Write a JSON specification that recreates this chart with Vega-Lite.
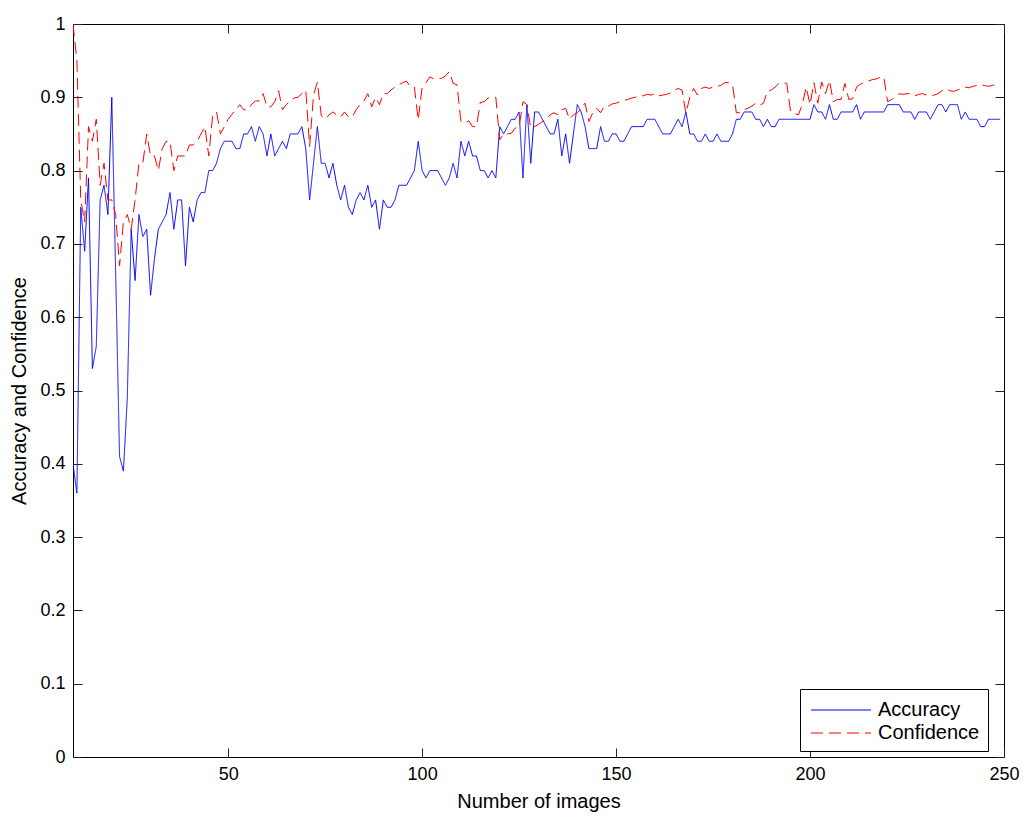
{
  "$schema": "https://vega.github.io/schema/vega-lite/v6.json",
  "width": 931,
  "height": 733,
  "autosize": "none",
  "padding": {"left": 73, "top": 24, "right": 24, "bottom": 60},
  "background": "white",
  "config": {
    "font": "Liberation Sans",
    "view": {"stroke": "black", "strokeWidth": 1},
    "axis": {
      "grid": false,
      "domain": false,
      "tickColor": "#222222",
      "tickSize": -9,
      "tickWidth": 1,
      "labelFont": "Liberation Sans",
      "labelFontSize": 18,
      "labelColor": "black",
      "labelPadding": 17,
      "labelFlush": false,
      "titleFont": "Liberation Sans",
      "titleFontSize": 20,
      "titleFontWeight": "normal",
      "titleColor": "black"
    },
    "legend": {
      "orient": "none",
      "legendX": 727,
      "legendY": 665,
      "title": null,
      "fillColor": "white",
      "strokeColor": "black",
      "padding": 8,
      "labelFont": "Liberation Sans",
      "labelFontSize": 20,
      "labelColor": "black",
      "labelOffset": 24,
      "symbolType": "M-2.4,0H2.4",
      "symbolSize": 625,
      "symbolOffset": 20,
      "symbolStrokeWidth": 1,
      "rowPadding": 0
    }
  },
  "data": {
    "values": [
      {"n":10,"Accuracy":0.40,"Confidence":1.00},
      {"n":11,"Accuracy":0.36,"Confidence":0.95},
      {"n":12,"Accuracy":0.75,"Confidence":0.76},
      {"n":13,"Accuracy":0.69,"Confidence":0.73},
      {"n":14,"Accuracy":0.79,"Confidence":0.86},
      {"n":15,"Accuracy":0.53,"Confidence":0.84},
      {"n":16,"Accuracy":0.56,"Confidence":0.87},
      {"n":17,"Accuracy":0.76,"Confidence":0.78},
      {"n":18,"Accuracy":0.78,"Confidence":0.81},
      {"n":19,"Accuracy":0.74,"Confidence":0.76},
      {"n":20,"Accuracy":0.90,"Confidence":0.76},
      {"n":21,"Accuracy":0.66,"Confidence":0.74},
      {"n":22,"Accuracy":0.41,"Confidence":0.67},
      {"n":23,"Accuracy":0.39,"Confidence":0.73},
      {"n":24,"Accuracy":0.49,"Confidence":0.74},
      {"n":25,"Accuracy":0.72,"Confidence":0.72},
      {"n":26,"Accuracy":0.65,"Confidence":0.76},
      {"n":27,"Accuracy":0.74,"Confidence":0.81},
      {"n":28,"Accuracy":0.71,"Confidence":0.81},
      {"n":29,"Accuracy":0.72,"Confidence":0.85},
      {"n":30,"Accuracy":0.63,"Confidence":0.82},
      {"n":31,"Accuracy":0.68,"Confidence":0.82},
      {"n":32,"Accuracy":0.72,"Confidence":0.80},
      {"n":33,"Accuracy":0.73,"Confidence":0.83},
      {"n":34,"Accuracy":0.74,"Confidence":0.84},
      {"n":35,"Accuracy":0.77,"Confidence":0.84},
      {"n":36,"Accuracy":0.72,"Confidence":0.80},
      {"n":37,"Accuracy":0.76,"Confidence":0.82},
      {"n":38,"Accuracy":0.76,"Confidence":0.82},
      {"n":39,"Accuracy":0.67,"Confidence":0.82},
      {"n":40,"Accuracy":0.75,"Confidence":0.835},
      {"n":41,"Accuracy":0.73,"Confidence":0.835},
      {"n":42,"Accuracy":0.76,"Confidence":0.84},
      {"n":43,"Accuracy":0.77,"Confidence":0.85},
      {"n":44,"Accuracy":0.77,"Confidence":0.86},
      {"n":45,"Accuracy":0.80,"Confidence":0.82},
      {"n":46,"Accuracy":0.80,"Confidence":0.875},
      {"n":47,"Accuracy":0.81,"Confidence":0.88},
      {"n":48,"Accuracy":0.83,"Confidence":0.85},
      {"n":49,"Accuracy":0.84,"Confidence":0.86},
      {"n":50,"Accuracy":0.84,"Confidence":0.87},
      {"n":51,"Accuracy":0.84,"Confidence":0.877},
      {"n":52,"Accuracy":0.83,"Confidence":0.883},
      {"n":53,"Accuracy":0.83,"Confidence":0.89},
      {"n":54,"Accuracy":0.85,"Confidence":0.883},
      {"n":55,"Accuracy":0.85,"Confidence":0.883},
      {"n":56,"Accuracy":0.86,"Confidence":0.89},
      {"n":57,"Accuracy":0.84,"Confidence":0.895},
      {"n":58,"Accuracy":0.86,"Confidence":0.895},
      {"n":59,"Accuracy":0.85,"Confidence":0.905},
      {"n":60,"Accuracy":0.82,"Confidence":0.887},
      {"n":61,"Accuracy":0.85,"Confidence":0.887},
      {"n":62,"Accuracy":0.82,"Confidence":0.894},
      {"n":63,"Accuracy":0.83,"Confidence":0.909},
      {"n":64,"Accuracy":0.84,"Confidence":0.883},
      {"n":65,"Accuracy":0.83,"Confidence":0.89},
      {"n":66,"Accuracy":0.85,"Confidence":0.895},
      {"n":67,"Accuracy":0.85,"Confidence":0.899},
      {"n":68,"Accuracy":0.85,"Confidence":0.90},
      {"n":69,"Accuracy":0.86,"Confidence":0.905},
      {"n":70,"Accuracy":0.83,"Confidence":0.91},
      {"n":71,"Accuracy":0.76,"Confidence":0.833},
      {"n":72,"Accuracy":0.81,"Confidence":0.903},
      {"n":73,"Accuracy":0.86,"Confidence":0.921},
      {"n":74,"Accuracy":0.81,"Confidence":0.875},
      {"n":75,"Accuracy":0.81,"Confidence":0.87},
      {"n":76,"Accuracy":0.79,"Confidence":0.876},
      {"n":77,"Accuracy":0.81,"Confidence":0.88},
      {"n":78,"Accuracy":0.78,"Confidence":0.876},
      {"n":79,"Accuracy":0.76,"Confidence":0.873},
      {"n":80,"Accuracy":0.78,"Confidence":0.88},
      {"n":81,"Accuracy":0.75,"Confidence":0.873},
      {"n":82,"Accuracy":0.74,"Confidence":0.873},
      {"n":83,"Accuracy":0.76,"Confidence":0.883},
      {"n":84,"Accuracy":0.77,"Confidence":0.89},
      {"n":85,"Accuracy":0.76,"Confidence":0.895},
      {"n":86,"Accuracy":0.78,"Confidence":0.905},
      {"n":87,"Accuracy":0.75,"Confidence":0.887},
      {"n":88,"Accuracy":0.76,"Confidence":0.90},
      {"n":89,"Accuracy":0.72,"Confidence":0.89},
      {"n":90,"Accuracy":0.76,"Confidence":0.905},
      {"n":91,"Accuracy":0.75,"Confidence":0.905},
      {"n":92,"Accuracy":0.75,"Confidence":0.91},
      {"n":93,"Accuracy":0.76,"Confidence":0.914},
      {"n":94,"Accuracy":0.78,"Confidence":0.917},
      {"n":95,"Accuracy":0.78,"Confidence":0.92},
      {"n":96,"Accuracy":0.78,"Confidence":0.922},
      {"n":97,"Accuracy":0.79,"Confidence":0.914},
      {"n":98,"Accuracy":0.80,"Confidence":0.914},
      {"n":99,"Accuracy":0.84,"Confidence":0.869},
      {"n":100,"Accuracy":0.80,"Confidence":0.914},
      {"n":101,"Accuracy":0.79,"Confidence":0.92},
      {"n":102,"Accuracy":0.80,"Confidence":0.928},
      {"n":103,"Accuracy":0.80,"Confidence":0.925},
      {"n":104,"Accuracy":0.80,"Confidence":0.925},
      {"n":105,"Accuracy":0.79,"Confidence":0.926},
      {"n":106,"Accuracy":0.78,"Confidence":0.929},
      {"n":107,"Accuracy":0.79,"Confidence":0.935},
      {"n":108,"Accuracy":0.81,"Confidence":0.919},
      {"n":109,"Accuracy":0.79,"Confidence":0.917},
      {"n":110,"Accuracy":0.84,"Confidence":0.867},
      {"n":111,"Accuracy":0.82,"Confidence":0.865},
      {"n":112,"Accuracy":0.84,"Confidence":0.868},
      {"n":113,"Accuracy":0.82,"Confidence":0.86},
      {"n":114,"Accuracy":0.82,"Confidence":0.86},
      {"n":115,"Accuracy":0.80,"Confidence":0.893},
      {"n":116,"Accuracy":0.80,"Confidence":0.894},
      {"n":117,"Accuracy":0.79,"Confidence":0.899},
      {"n":118,"Accuracy":0.80,"Confidence":0.90},
      {"n":119,"Accuracy":0.79,"Confidence":0.90},
      {"n":120,"Accuracy":0.86,"Confidence":0.842},
      {"n":121,"Accuracy":0.85,"Confidence":0.85},
      {"n":122,"Accuracy":0.86,"Confidence":0.85},
      {"n":123,"Accuracy":0.87,"Confidence":0.851},
      {"n":124,"Accuracy":0.87,"Confidence":0.858},
      {"n":125,"Accuracy":0.88,"Confidence":0.86},
      {"n":126,"Accuracy":0.79,"Confidence":0.894},
      {"n":127,"Accuracy":0.89,"Confidence":0.89},
      {"n":128,"Accuracy":0.81,"Confidence":0.858},
      {"n":129,"Accuracy":0.88,"Confidence":0.86},
      {"n":130,"Accuracy":0.88,"Confidence":0.863},
      {"n":131,"Accuracy":0.87,"Confidence":0.867},
      {"n":132,"Accuracy":0.86,"Confidence":0.87},
      {"n":133,"Accuracy":0.85,"Confidence":0.876},
      {"n":134,"Accuracy":0.85,"Confidence":0.879},
      {"n":135,"Accuracy":0.87,"Confidence":0.876},
      {"n":136,"Accuracy":0.82,"Confidence":0.883},
      {"n":137,"Accuracy":0.85,"Confidence":0.885},
      {"n":138,"Accuracy":0.81,"Confidence":0.87},
      {"n":139,"Accuracy":0.85,"Confidence":0.876},
      {"n":140,"Accuracy":0.89,"Confidence":0.879},
      {"n":141,"Accuracy":0.88,"Confidence":0.885},
      {"n":142,"Accuracy":0.86,"Confidence":0.892},
      {"n":143,"Accuracy":0.83,"Confidence":0.867},
      {"n":144,"Accuracy":0.83,"Confidence":0.879},
      {"n":145,"Accuracy":0.83,"Confidence":0.885},
      {"n":146,"Accuracy":0.86,"Confidence":0.879},
      {"n":147,"Accuracy":0.84,"Confidence":0.888},
      {"n":148,"Accuracy":0.84,"Confidence":0.888},
      {"n":149,"Accuracy":0.85,"Confidence":0.891},
      {"n":150,"Accuracy":0.85,"Confidence":0.892},
      {"n":151,"Accuracy":0.84,"Confidence":0.894},
      {"n":152,"Accuracy":0.84,"Confidence":0.896},
      {"n":153,"Accuracy":0.85,"Confidence":0.897},
      {"n":154,"Accuracy":0.86,"Confidence":0.899},
      {"n":155,"Accuracy":0.86,"Confidence":0.90},
      {"n":156,"Accuracy":0.86,"Confidence":0.903},
      {"n":157,"Accuracy":0.86,"Confidence":0.902},
      {"n":158,"Accuracy":0.87,"Confidence":0.904},
      {"n":159,"Accuracy":0.87,"Confidence":0.903},
      {"n":160,"Accuracy":0.87,"Confidence":0.905},
      {"n":161,"Accuracy":0.86,"Confidence":0.902},
      {"n":162,"Accuracy":0.85,"Confidence":0.903},
      {"n":163,"Accuracy":0.85,"Confidence":0.904},
      {"n":164,"Accuracy":0.85,"Confidence":0.906},
      {"n":165,"Accuracy":0.86,"Confidence":0.91},
      {"n":166,"Accuracy":0.87,"Confidence":0.912},
      {"n":167,"Accuracy":0.86,"Confidence":0.91},
      {"n":168,"Accuracy":0.88,"Confidence":0.878},
      {"n":169,"Accuracy":0.85,"Confidence":0.90},
      {"n":170,"Accuracy":0.85,"Confidence":0.912},
      {"n":171,"Accuracy":0.84,"Confidence":0.903},
      {"n":172,"Accuracy":0.84,"Confidence":0.912},
      {"n":173,"Accuracy":0.85,"Confidence":0.914},
      {"n":174,"Accuracy":0.84,"Confidence":0.912},
      {"n":175,"Accuracy":0.84,"Confidence":0.914},
      {"n":176,"Accuracy":0.85,"Confidence":0.915},
      {"n":177,"Accuracy":0.84,"Confidence":0.916},
      {"n":178,"Accuracy":0.84,"Confidence":0.92},
      {"n":179,"Accuracy":0.84,"Confidence":0.92},
      {"n":180,"Accuracy":0.85,"Confidence":0.918},
      {"n":181,"Accuracy":0.87,"Confidence":0.879},
      {"n":182,"Accuracy":0.87,"Confidence":0.879},
      {"n":183,"Accuracy":0.88,"Confidence":0.883},
      {"n":184,"Accuracy":0.88,"Confidence":0.885},
      {"n":185,"Accuracy":0.88,"Confidence":0.888},
      {"n":186,"Accuracy":0.87,"Confidence":0.892},
      {"n":187,"Accuracy":0.87,"Confidence":0.889},
      {"n":188,"Accuracy":0.86,"Confidence":0.892},
      {"n":189,"Accuracy":0.87,"Confidence":0.908},
      {"n":190,"Accuracy":0.86,"Confidence":0.91},
      {"n":191,"Accuracy":0.86,"Confidence":0.914},
      {"n":192,"Accuracy":0.87,"Confidence":0.919},
      {"n":193,"Accuracy":0.87,"Confidence":0.92},
      {"n":194,"Accuracy":0.87,"Confidence":0.919},
      {"n":195,"Accuracy":0.87,"Confidence":0.88},
      {"n":196,"Accuracy":0.87,"Confidence":0.878},
      {"n":197,"Accuracy":0.87,"Confidence":0.876},
      {"n":198,"Accuracy":0.87,"Confidence":0.89},
      {"n":199,"Accuracy":0.87,"Confidence":0.914},
      {"n":200,"Accuracy":0.87,"Confidence":0.89},
      {"n":201,"Accuracy":0.89,"Confidence":0.92},
      {"n":202,"Accuracy":0.88,"Confidence":0.892},
      {"n":203,"Accuracy":0.88,"Confidence":0.921},
      {"n":204,"Accuracy":0.87,"Confidence":0.905},
      {"n":205,"Accuracy":0.89,"Confidence":0.923},
      {"n":206,"Accuracy":0.87,"Confidence":0.894},
      {"n":207,"Accuracy":0.87,"Confidence":0.897},
      {"n":208,"Accuracy":0.88,"Confidence":0.897},
      {"n":209,"Accuracy":0.88,"Confidence":0.919},
      {"n":210,"Accuracy":0.88,"Confidence":0.897},
      {"n":211,"Accuracy":0.88,"Confidence":0.898},
      {"n":212,"Accuracy":0.89,"Confidence":0.914},
      {"n":213,"Accuracy":0.87,"Confidence":0.918},
      {"n":214,"Accuracy":0.88,"Confidence":0.92},
      {"n":215,"Accuracy":0.88,"Confidence":0.922},
      {"n":216,"Accuracy":0.88,"Confidence":0.924},
      {"n":217,"Accuracy":0.88,"Confidence":0.925},
      {"n":218,"Accuracy":0.88,"Confidence":0.927},
      {"n":219,"Accuracy":0.88,"Confidence":0.928},
      {"n":220,"Accuracy":0.89,"Confidence":0.894},
      {"n":221,"Accuracy":0.89,"Confidence":0.897},
      {"n":222,"Accuracy":0.89,"Confidence":0.90},
      {"n":223,"Accuracy":0.89,"Confidence":0.905},
      {"n":224,"Accuracy":0.88,"Confidence":0.904},
      {"n":225,"Accuracy":0.88,"Confidence":0.905},
      {"n":226,"Accuracy":0.88,"Confidence":0.905},
      {"n":227,"Accuracy":0.87,"Confidence":0.902},
      {"n":228,"Accuracy":0.88,"Confidence":0.904},
      {"n":229,"Accuracy":0.88,"Confidence":0.905},
      {"n":230,"Accuracy":0.88,"Confidence":0.903},
      {"n":231,"Accuracy":0.87,"Confidence":0.902},
      {"n":232,"Accuracy":0.88,"Confidence":0.903},
      {"n":233,"Accuracy":0.89,"Confidence":0.905},
      {"n":234,"Accuracy":0.89,"Confidence":0.909},
      {"n":235,"Accuracy":0.88,"Confidence":0.912},
      {"n":236,"Accuracy":0.89,"Confidence":0.909},
      {"n":237,"Accuracy":0.89,"Confidence":0.908},
      {"n":238,"Accuracy":0.89,"Confidence":0.91},
      {"n":239,"Accuracy":0.87,"Confidence":0.912},
      {"n":240,"Accuracy":0.88,"Confidence":0.914},
      {"n":241,"Accuracy":0.87,"Confidence":0.913},
      {"n":242,"Accuracy":0.87,"Confidence":0.915},
      {"n":243,"Accuracy":0.87,"Confidence":0.916},
      {"n":244,"Accuracy":0.86,"Confidence":0.917},
      {"n":245,"Accuracy":0.86,"Confidence":0.916},
      {"n":246,"Accuracy":0.87,"Confidence":0.915},
      {"n":247,"Accuracy":0.87,"Confidence":0.916},
      {"n":248,"Accuracy":0.87,"Confidence":0.918},
      {"n":249,"Accuracy":0.87,"Confidence":0.918}
    ]
  },
  "transform": [{"fold": ["Accuracy", "Confidence"], "as": ["series", "value"]}],
  "layer": [
    {
      "mark": {"type": "line", "strokeWidth": 1, "clip": true},
      "encoding": {
        "x": {
          "field": "n", "type": "quantitative",
          "scale": {"domain": [10, 250], "nice": false, "zero": false},
          "axis": {"orient": "bottom", "values": [50, 100, 150, 200, 250], "title": "Number of images", "titlePadding": 8}
        },
        "y": {
          "field": "value", "type": "quantitative",
          "scale": {"domain": [0, 1], "nice": false},
          "axis": {"orient": "left", "values": [0, 0.1, 0.2, 0.3, 0.4, 0.5, 0.6, 0.7, 0.8, 0.9, 1], "format": ".1~f", "title": "Accuracy and Confidence", "titlePadding": 10}
        },
        "color": {
          "field": "series", "type": "nominal",
          "scale": {"domain": ["Accuracy", "Confidence"], "range": ["#0000ff", "#ff0000"]}
        },
        "strokeDash": {
          "field": "series", "type": "nominal",
          "scale": {"domain": ["Accuracy", "Confidence"], "range": [[1, 0], [12, 6]]}
        }
      }
    },
    {
      "mark": {"type": "point", "opacity": 0},
      "encoding": {
        "x": {
          "field": "n", "type": "quantitative",
          "axis": {"orient": "top", "values": [50, 100, 150, 200, 250], "labels": false, "title": null}
        },
        "y": {
          "field": "value", "type": "quantitative",
          "axis": {"orient": "right", "values": [0, 0.1, 0.2, 0.3, 0.4, 0.5, 0.6, 0.7, 0.8, 0.9, 1], "labels": false, "title": null}
        }
      }
    }
  ],
  "resolve": {"axis": {"x": "independent", "y": "independent"}}
}
